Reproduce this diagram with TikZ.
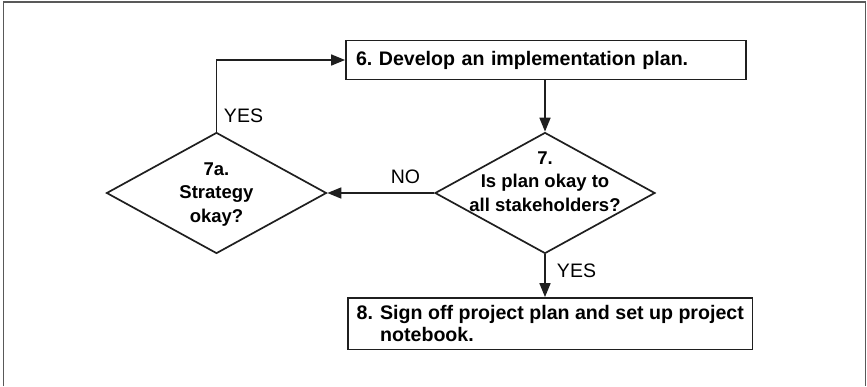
\documentclass[tikz,border=0pt]{standalone}
\usepackage{fontspec}
\setmainfont{Liberation Sans}
\usetikzlibrary{shapes.geometric,arrows.meta}
\definecolor{ink}{gray}{0.12}
\definecolor{framegray}{gray}{0.35}
\frenchspacing
\begin{document}
\begin{tikzpicture}[x=1pt,y=-1pt,
  box/.style={draw=ink, line width=1.8pt, font=\bfseries\fontsize{19.6}{22}\selectfont, inner xsep=10pt, inner ysep=0pt},
  dia/.style={draw=ink, diamond, inner sep=0pt, minimum width=220pt, minimum height=121pt, line width=1.7pt},
  dtext/.style={font=\bfseries\fontsize{18.5}{23.5}\selectfont, align=center, inner sep=0pt},
  lbl/.style={font=\fontsize{19.5}{20}\selectfont, inner sep=0pt},
  arr/.style={draw=ink, line width=1.7pt, -{Triangle[length=14pt,width=11pt]}},
  frame/.style={draw=framegray, line width=1.6pt}
]
\useasboundingbox (0,0) rectangle (867,386);
\draw[frame] (3.5,386) -- (3.5,2) -- (865.3,2) -- (865.3,386);

\node[box, minimum width=400pt, minimum height=39pt, text width=380pt, align=left] (b6) at (546,60) {6. Develop an implementation plan.};
\node[box, minimum width=404.5pt, minimum height=51.5pt, align=left, inner xsep=0pt] (b8) at (550.25,323.75)
  {\makebox[23.5pt][l]{8.}Sign off project plan and set up project\\\hspace*{23.5pt}notebook.};

\node[dia] (d7) at (545,193) {};
\node[dtext] (t7) at (545,181.5) {7.\\Is plan okay to\\all stakeholders?};
\node[dia] (d7a) at (216.5,193) {};
\node[dtext] (t7a) at (216.5,194.5) {7a.\\Strategy\\okay?};

\node[lbl] (yes1) at (243.5,116) {YES};
\node[lbl] (no) at (405.5,176.5) {NO};
\node[lbl] (yes2) at (576.5,270.5) {YES};

\draw[arr] (d7a.north) |- (b6.west);
\draw[arr] (b6.south -| d7.north) -- (d7.north);
\draw[arr] (d7.west) -- (d7a.east);
\draw[arr] (d7.south) -- (d7.south |- b8.north);
\end{tikzpicture}
\end{document}
